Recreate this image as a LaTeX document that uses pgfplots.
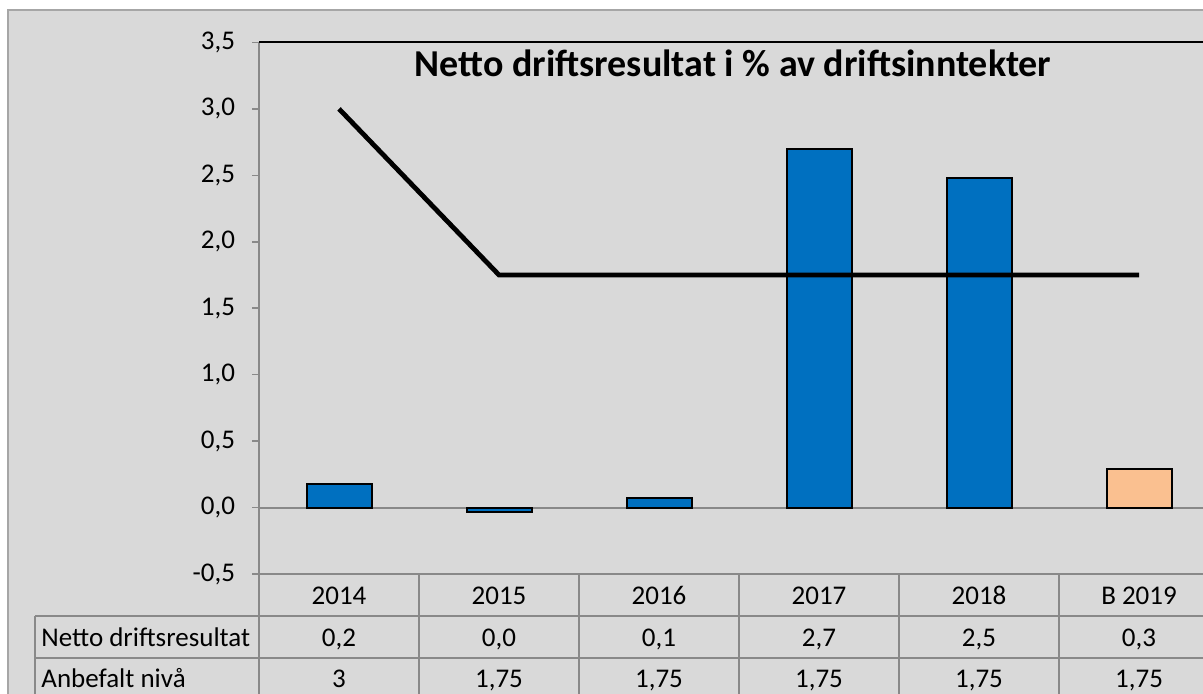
\documentclass[border=0pt]{standalone}
\usepackage{fontspec}
\setmainfont{Carlito}
\usepackage{pgfplots}
\pgfplotsset{compat=1.18}
\definecolor{bg}{HTML}{D9D9D9}
\definecolor{gr}{HTML}{898989}
\definecolor{frame}{HTML}{A6A6A6}
\definecolor{barblue}{HTML}{0070C0}
\definecolor{peach}{HTML}{FAC090}
\begin{document}
\begin{tikzpicture}[x=0.5pt,y=0.5pt]
\fill[white] (0,0) rectangle (1203,693);
\fill[bg] (8,-10) rectangle (1215,683);
\draw[frame, line width=0.75pt] (8,-10) -- (8,683) -- (1215,683);
\begin{axis}[
  at={(129.5pt,59.5pt)}, anchor=south west,
  scale only axis, width=480pt, height=265.8pt,
  xmin=-0.5, xmax=5.5, ymin=-0.5, ymax=3.5,
  ytick={-0.5,0,...,3.5},
  xtick=\empty,
  axis line style={draw=none},
  ytick pos=left, tick align=outside,
  major tick length=3.5pt,
  ytick style={gr, line width=0.75pt},
  yticklabel style={font=\fontsize{13.5}{16}\selectfont, xshift=-5pt},
  /pgf/number format/.cd, use comma, fixed, fixed zerofill, precision=1, assume math mode=true,
  /pgfplots/.cd,
  clip=false,
]
\draw[gr, line width=1pt] (axis cs:-0.5,0) -- (axis cs:5.5,0);
\addplot[ybar, bar shift=0pt, bar width=32.5pt, fill=barblue, draw=black, line width=1pt]
  coordinates {(0,0.18) (1,-0.03) (2,0.07) (3,2.70) (4,2.48)};
\addplot[ybar, bar shift=0pt, bar width=32.5pt, fill=peach, draw=black, line width=1pt]
  coordinates {(5,0.29)};
\addplot[black, line width=2.4pt, mark=none]
  coordinates {(0,3) (1,1.75) (2,1.75) (3,1.75) (4,1.75) (5,1.75)};
\draw[gr, line width=1pt] (rel axis cs:0,0) -- (rel axis cs:0,1);
\draw[gr, line width=1pt] (rel axis cs:0,0) -- (rel axis cs:1,0);
\draw[black, line width=1pt] (rel axis cs:0,1) -- (rel axis cs:1,1);
\end{axis}
% data table
\draw[gr, line width=1pt] (35,77) -- (1219,77);
\draw[gr, line width=1pt] (35,35) -- (1219,35);
\draw[gr, line width=1pt] (35,-7) -- (1219,-7);
\draw[gr, line width=1pt] (35,77) -- (35,-10);
\foreach \x in {419,579,739,899,1059} {\draw[gr, line width=1pt] (\x,119) -- (\x,-10);}
\draw[gr, line width=1pt] (259,119) -- (259,-10);
\begin{scope}[every node/.style={font=\fontsize{13.5}{16}\selectfont, inner sep=0pt, anchor=base}]
\node at (339,89) {2014};
\node at (499,89) {2015};
\node at (659,89) {2016};
\node at (819,89) {2017};
\node at (979,89) {2018};
\node at (1139,89) {B 2019};
\node[anchor=base west] at (41,47) {Netto driftsresultat};
\node at (339,47) {0,2};
\node at (499,47) {0,0};
\node at (659,47) {0,1};
\node at (819,47) {2,7};
\node at (979,47) {2,5};
\node at (1139,47) {0,3};
\node[anchor=base west] at (41,6) {Anbefalt nivå};
\node at (339,6) {3};
\node at (499,6) {1,75};
\node at (659,6) {1,75};
\node at (819,6) {1,75};
\node at (979,6) {1,75};
\node at (1139,6) {1,75};
\end{scope}
\node[font=\bfseries\fontsize{19}{22}\selectfont, anchor=base] at (733,617) {Netto driftsresultat i \% av driftsinntekter};
\pgfresetboundingbox
\path[use as bounding box] (0,0) rectangle (1203,693);
\end{tikzpicture}
\end{document}
